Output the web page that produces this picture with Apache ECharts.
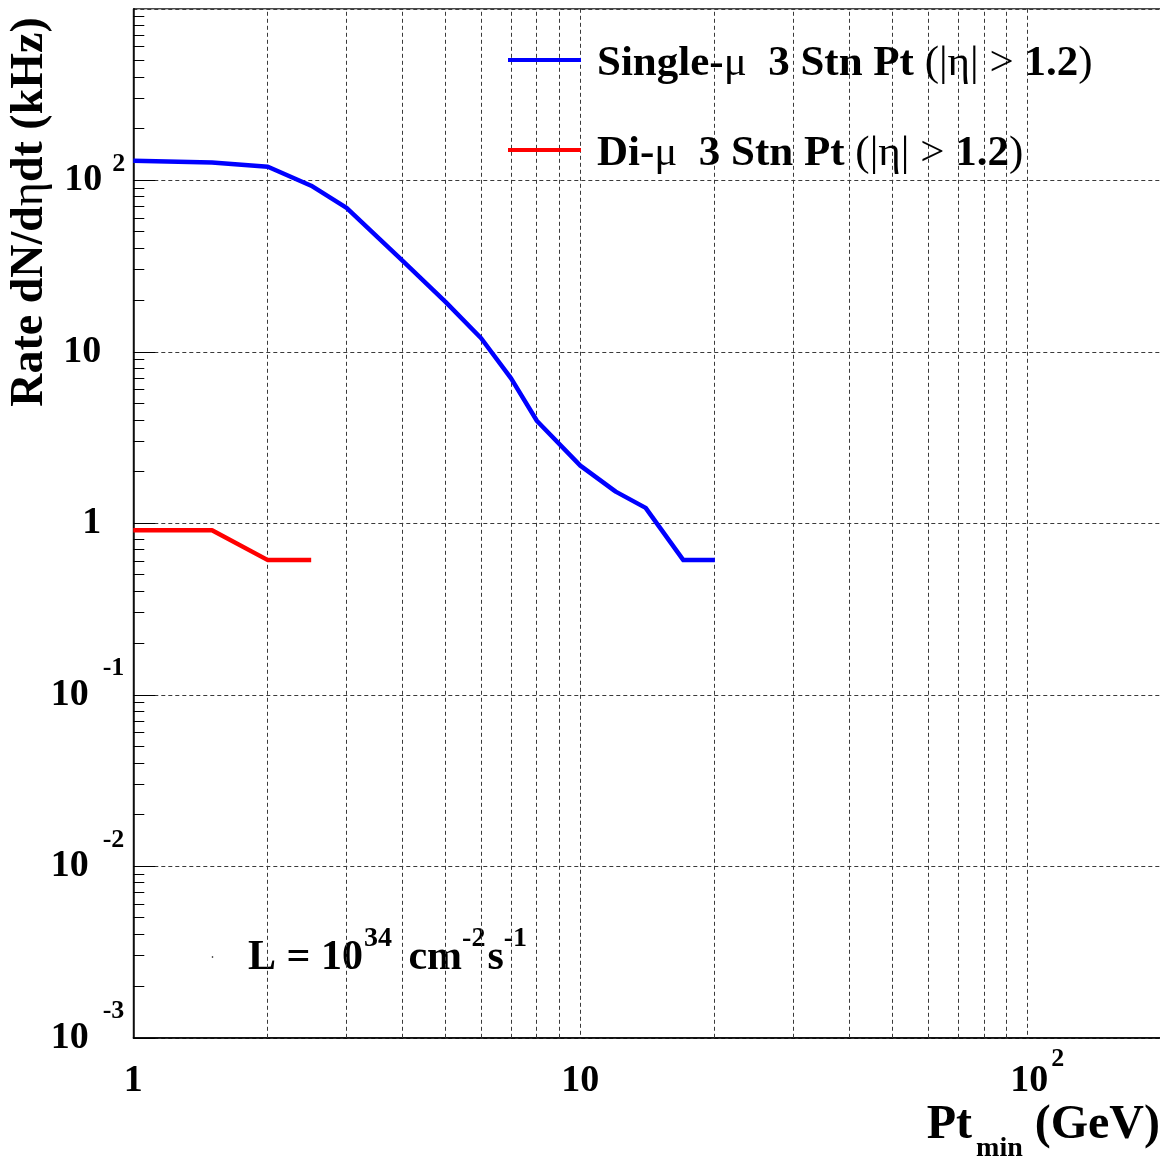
<!DOCTYPE html>
<html>
<head>
<meta charset="utf-8">
<title>Muon trigger rate vs Pt threshold</title>
<script src="https://cdn.jsdelivr.net/npm/echarts@6/dist/echarts.min.js"></script>
<style>
  html, body { margin: 0; padding: 0; background: #fff; }
  #chart { width: 1160px; height: 1156px; }
</style>
</head>
<body>
<div id="chart"></div>
<script>
// Pt threshold (GeV) and rate (kHz) for the single- and di-muon triggers
const ptSingle   = [1, 1.5, 2, 2.5, 3, 4, 5, 6, 7, 8, 10, 12, 14, 17, 20];
const rateSingle = [130, 127, 120, 93, 69, 34, 19.5, 12, 7.0, 3.95, 2.17, 1.53, 1.23, 0.61, 0.61];
const ptDi       = [1, 1.5, 2, 2.5];
const rateDi     = [0.91, 0.91, 0.61, 0.61];

const seriesNames = ['Single-μ  3 Stn Pt (|η| > 1.2)', 'Di-μ  3 Stn Pt (|η| > 1.2)'];
const legendRich  = [
  '{b|Single-}{r|μ}{b|  3 Stn Pt }{r|(|η| > }{b|1.2}{r|)}',
  '{b|Di-}{r|μ}{b|  3 Stn Pt }{r|(|η| > }{b|1.2}{r|)}'
];

// axis ranges
const xRange = [1, 200];
const yRange = [0.001, 1000];

// tick labels: [mantissa, exponent] keyed by decade exponent
const xTickExp    = [0, 1, 2];
const xTickLabels = [['1', ''], ['10', ''], ['10', '2']];
const yTickExp    = [-3, -2, -1, 0, 1, 2];
const yTickLabels = [['10', '-3'], ['10', '-2'], ['10', '-1'], ['1', ''], ['10', ''], ['10', '2']];

// minor grid / tick positions
const xMinorGrid  = [2, 3, 4, 5, 6, 7, 8, 9, 20, 30, 40, 50, 60, 70, 80, 90];
const yDecades    = [0.001, 0.01, 0.1, 1, 10, 100];
const yMinorSteps = [2, 3, 4, 5, 6, 7, 8, 9];

const FONT = "'Liberation Serif', 'Times New Roman', serif";
const GRID_COLOR = '#3a3a3a';
const DASH = [4, 3];

const yMinorTicks = [];
yDecades.forEach(d => yMinorSteps.forEach(s => yMinorTicks.push(+(d * s).toPrecision(3))));

function expOf(v) { return Math.round(Math.log10(v)); }

const chart = echarts.init(document.getElementById('chart'), null, { renderer: 'canvas' });

const crisp = v => Math.round(v - 0.5) + 0.5;

const option = {
  backgroundColor: '#ffffff',
  animation: false,
  grid: {
    left: 133.3, top: 8.8, width: 1028.6, height: 1029,
    show: true, borderColor: '#000', borderWidth: 1, backgroundColor: 'transparent',
    containLabel: false, outerBoundsMode: 'none'
  },
  legend: {
    orient: 'vertical',
    left: 503, top: 26,
    itemGap: 32,
    itemWidth: 73, itemHeight: 4,
    icon: 'rect',
    selectedMode: false,
    data: seriesNames,
    formatter: name => legendRich[seriesNames.indexOf(name)],
    textStyle: {
      fontFamily: FONT, color: '#000', lineHeight: 50, padding: [8, 0, 0, 11],
      rich: {
        b: { fontFamily: FONT, fontWeight: 'bold', fontSize: 43, lineHeight: 50, color: '#000' },
        r: { fontFamily: FONT, fontWeight: 'normal', fontSize: 43, lineHeight: 50, color: '#000' }
      }
    }
  },
  xAxis: {
    type: 'log', logBase: 10, min: xRange[0], max: xRange[1],
    axisLine: { show: true, lineStyle: { color: '#000', width: 1.5 } },
    axisTick: { show: false },
    splitLine: { show: true, lineStyle: { color: GRID_COLOR, width: 1, type: DASH } },
    axisLabel: {
      show: true, margin: 8, showMaxLabel: false,
      formatter: v => {
        const i = xTickExp.indexOf(expOf(v));
        if (i < 0 || Math.abs(Math.log10(v) - xTickExp[i]) > 1e-6) return '';
        const [m, e] = xTickLabels[i];
        return e ? `{p|}{m|${m}}{e|${e}}` : `{m|${m}}`;
      },
      rich: {
        m: { fontFamily: FONT, fontWeight: 'bold', fontSize: 38, lineHeight: 70, color: '#000' },
        e: { fontFamily: FONT, fontWeight: 'bold', fontSize: 26, lineHeight: 26, color: '#000', padding: [0, 0, 44, 3] },
        p: { width: 20 }
      }
    }
  },
  yAxis: {
    type: 'log', logBase: 10, min: yRange[0], max: yRange[1],
    axisLine: { show: true, lineStyle: { color: '#000', width: 1.5 } },
    axisTick: { show: true, inside: true, length: 22, lineStyle: { color: '#000', width: 1 } },
    splitLine: { show: true, lineStyle: { color: GRID_COLOR, width: 1, type: DASH } },
    axisLabel: {
      show: true, margin: 7, showMaxLabel: false,
      formatter: v => {
        const i = yTickExp.indexOf(expOf(v));
        if (i < 0) return '';
        const [m, e] = yTickLabels[i];
        if (!e) return `{m|${m}}{q|}`;
        return e.startsWith('-') ? `{m|${m}}{n|${e}}` : `{m|${m}}{e|${e}}`;
      },
      rich: {
        m: { fontFamily: FONT, fontWeight: 'bold', fontSize: 38, lineHeight: 40, color: '#000' },
        e: { fontFamily: FONT, fontWeight: 'bold', fontSize: 26, lineHeight: 26, color: '#000', padding: [0, 1, 33, 10] },
        n: { fontFamily: FONT, fontWeight: 'bold', fontSize: 26, lineHeight: 26, color: '#000', padding: [0, 2, 53, 14] },
        q: { width: 25 }
      }
    }
  },
  series: [
    {
      // minor vertical grid lines
      type: 'custom', silent: true, z: 1,
      data: xMinorGrid.map(v => [v, 1]),
      renderItem: (params, api) => {
        const p0 = api.coord([api.value(0), yRange[0]]);
        const p1 = api.coord([api.value(0), yRange[1]]);
        const x = crisp(p0[0]);
        return {
          type: 'line',
          shape: { x1: x, y1: p0[1], x2: x, y2: p1[1] },
          style: { stroke: GRID_COLOR, lineWidth: 1, lineDash: DASH }
        };
      }
    },
    {
      // minor ticks on the rate axis
      type: 'custom', silent: true, z: 3,
      data: yMinorTicks.map(v => [1, v]),
      renderItem: (params, api) => {
        const p = api.coord([xRange[0], api.value(1)]);
        const y = crisp(p[1]);
        return {
          type: 'line',
          shape: { x1: p[0], y1: y, x2: p[0] + 11, y2: y },
          style: { stroke: '#000', lineWidth: 1 }
        };
      }
    },
    {
      name: seriesNames[0], type: 'line', z: 5,
      data: ptSingle.map((x, i) => [x, rateSingle[i]]),
      symbol: 'none', color: '#0000ff',
      lineStyle: { color: '#0000ff', width: 4.5, join: 'round' }
    },
    {
      name: seriesNames[1], type: 'line', z: 5,
      data: ptDi.map((x, i) => [x, rateDi[i]]),
      symbol: 'none', color: '#ff0000',
      lineStyle: { color: '#ff0000', width: 4.5, join: 'round' }
    }
  ],
  graphic: [
    {
      type: 'text', x: 30, y: 212, rotation: Math.PI / 2,
      style: {
        text: '{b|Rate dN/d}{r|η}{b|dt (kHz)}',
        align: 'center', verticalAlign: 'middle',
        rich: {
          b: { fontFamily: FONT, fontWeight: 'bold', fontSize: 46, fill: '#000' },
          r: { fontFamily: FONT, fontWeight: 'normal', fontSize: 46, fill: '#000' }
        }
      }
    },
    {
      type: 'text', x: 1160, y: 1126,
      style: {
        text: '{b|Pt}{s|min}{b| (GeV)}',
        align: 'right', verticalAlign: 'middle',
        rich: {
          b: { fontFamily: FONT, fontWeight: 'bold', fontSize: 48, lineHeight: 48, fill: '#000' },
          s: { fontFamily: FONT, fontWeight: 'bold', fontSize: 28, lineHeight: 28, fill: '#000', padding: [45, 0, 0, 4] }
        }
      }
    },
    {
      type: 'text', x: 248, y: 958,
      style: {
        text: '{m|L = 10}{s|34}{m| cm}{t|-2}{m|s}{t|-1}',
        align: 'left', verticalAlign: 'middle',
        rich: {
          m: { fontFamily: FONT, fontWeight: 'bold', fontSize: 42, lineHeight: 42, fill: '#000' },
          s: { fontFamily: FONT, fontWeight: 'bold', fontSize: 28, lineHeight: 28, fill: '#000', padding: [0, 6, 38, 1] },
          t: { fontFamily: FONT, fontWeight: 'bold', fontSize: 28, lineHeight: 28, fill: '#000', padding: [0, 2, 38, 0] }
        }
      }
    },
    {
      type: 'circle', shape: { cx: 212.5, cy: 957, r: 0.8 }, style: { fill: '#000' }
    }
  ]
};

chart.setOption(option);
</script>
</body>
</html>
